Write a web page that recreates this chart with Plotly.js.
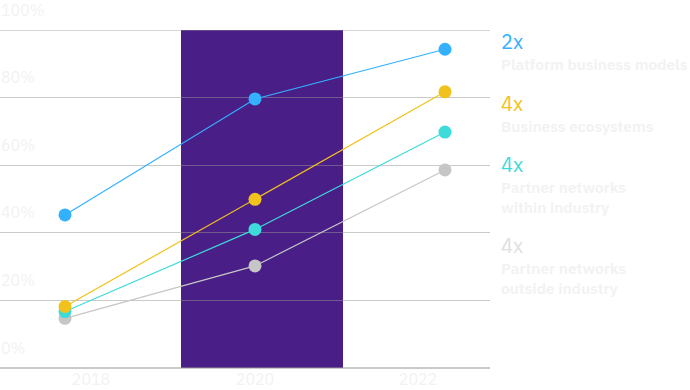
<!DOCTYPE html>
<html>
<head>
<meta charset="utf-8">
<script src="https://cdn.plot.ly/plotly-3.0.1.min.js"></script>
<style>html,body{margin:0;padding:0;background:#fff;}#chart{width:690px;height:390px;}</style>
</head>
<body>
<div id="chart"></div>
<script>
// ---- data ----
const years = [2018, 2020, 2022];
const yearLabels = ["2018", "2020", "2022"];
const platformModels = [45.3, 79.6, 94.3];
const businessEcosystems = [18.2, 49.9, 81.7];
const partnerWithin = [16.7, 41.0, 69.8];
const partnerOutside = [14.7, 30.2, 58.6];
const multipliers = ["2x", "4x", "4x", "4x"];
const seriesNames = ["Platform business models", "Business ecosystems", "Partner networks<br>within industry", "Partner networks<br>outside industry"];
const yTickVals = [0, 20, 40, 60, 80, 100];
const yTickText = ["0%", "20%", "40%", "60%", "80%", "100%"];
const highlightYear = 2020;

// ---- style ----
const colors = ["#33b1ff", "#f1c21b", "#3ddbd9", "#c6c6c6"];
const multColors = ["#33b1ff", "#f1c21b", "#3ddbd9", "#e0e0e0"];
const faint = "#f2f2f2";
const gridCol = "rgba(150,150,150,0.5)";
const fontFam = "'IBM Plex Sans', 'Noto Sans', 'Open Sans', sans-serif";

const plotW = 490;              // plot area width in px
const pxPerYear = 95;
const firstPx = 65;             // 2018 point position
const xr = [years[0] - firstPx / pxPerYear, years[0] + (plotW - firstPx) / pxPerYear];
const px2x = p => years[0] + (p - firstPx) / pxPerYear;
const labelPx = [91, 255, 418];
const bandPx = [181, 343];

const allSeries = [platformModels, businessEcosystems, partnerWithin, partnerOutside];
const drawOrder = [3, 2, 1, 0];
const traces = drawOrder.map(i => ({
  x: years, y: allSeries[i], type: "scatter", mode: "lines+markers",
  name: seriesNames[i].replace("<br>", " "),
  line: {color: colors[i], width: 1.2},
  marker: {color: colors[i], size: 13},
  hoverinfo: "skip"
}));

// legend-like annotations on the right
const groupY = [41, 103, 164, 245];
const plotTop = 30, plotBottom = 368;
const py2paper = p => (plotBottom - p) / (plotBottom - plotTop);
const annotations = [];
multipliers.forEach((m, i) => {
  annotations.push({
    xref: "paper", yref: "paper", x: 499 / plotW, y: py2paper(groupY[i]),
    xanchor: "left", yanchor: "middle", showarrow: false, text: m,
    font: {family: fontFam, size: 20, color: multColors[i]}
  });
  annotations.push({
    xref: "paper", yref: "paper", x: 499 / plotW, y: py2paper(groupY[i] + 11),
    xanchor: "left", yanchor: "top", showarrow: false, text: seriesNames[i], align: "left",
    font: {family: fontFam, size: 15.5, color: faint, weight: 600}
  });
});

const layout = {
  width: 690, height: 390,
  margin: {l: 0, r: 690 - plotW, t: plotTop, b: 390 - plotBottom, pad: 0},
  paper_bgcolor: "#ffffff", plot_bgcolor: "#ffffff",
  showlegend: false,
  xaxis: {
    range: xr, showgrid: false, zeroline: false, showline: false,
    tickvals: labelPx.map(px2x), ticktext: yearLabels, ticks: "",
    tickfont: {family: fontFam, size: 16, color: faint}
  },
  yaxis: {
    range: [0, 100], tickvals: yTickVals, ticktext: yTickText,
    showgrid: true, gridcolor: gridCol, gridwidth: 1,
    zeroline: true, zerolinecolor: gridCol, zerolinewidth: 1.5,
    showline: false, ticks: "",
    ticklabelposition: "inside", ticklabelshift: -20, ticklabelstandoff: -2,
    ticklabeloverflow: "allow",
    tickfont: {family: fontFam, size: 16, color: faint}
  },
  shapes: [{
    type: "rect", xref: "x", yref: "paper",
    x0: px2x(bandPx[0]), x1: px2x(bandPx[1]), y0: 0, y1: 1,
    fillcolor: "#4a1e87", line: {width: 0}, layer: "below"
  }, {
    type: "line", xref: "paper", yref: "y", x0: 0, x1: 1,
    y0: yTickVals[yTickVals.length - 1], y1: yTickVals[yTickVals.length - 1],
    line: {color: gridCol, width: 1.5}, layer: "below"
  }],
  annotations: annotations
};

Plotly.newPlot("chart", traces, layout, {displayModeBar: false, staticPlot: true});
</script>
</body>
</html>
